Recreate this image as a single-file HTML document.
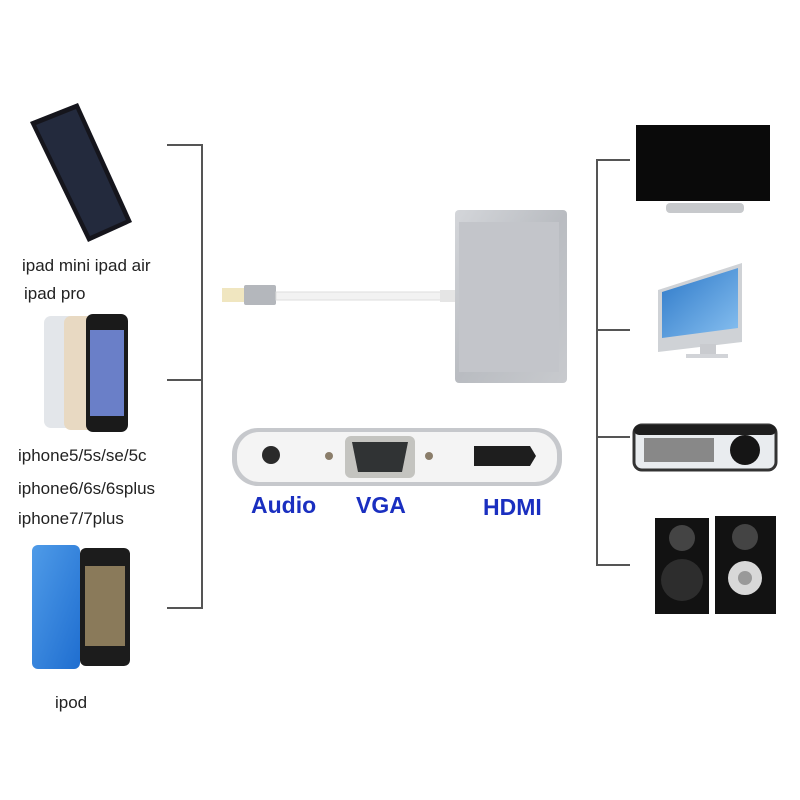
<!DOCTYPE html>
<html><head><meta charset="utf-8"><style>
html,body{margin:0;padding:0;background:#fff;}
svg{display:block}
</style></head><body>
<svg width="800" height="800" viewBox="0 0 800 800" xmlns="http://www.w3.org/2000/svg">
<defs>
<linearGradient id="silver" x1="0" y1="0" x2="1" y2="1"><stop offset="0" stop-color="#d4d6da"/><stop offset="0.5" stop-color="#b9bcc1"/><stop offset="1" stop-color="#c8cace"/></linearGradient>
<linearGradient id="blue" x1="0" y1="0" x2="1" y2="1"><stop offset="0" stop-color="#4f9be8"/><stop offset="1" stop-color="#1f6ed0"/></linearGradient>
<linearGradient id="scr" x1="0" y1="0" x2="1" y2="1"><stop offset="0" stop-color="#2c78c8"/><stop offset="1" stop-color="#88c0f0"/></linearGradient>
</defs>
<rect width="800" height="800" fill="#fff"/>
<!-- left bracket -->
<g stroke="#555" stroke-width="2" fill="none">
<path d="M167 145H202V608H167M167 380H202"/>
<path d="M630 160H597V565H630M597 330H630M597 437H630"/>
</g>
<!-- ipad -->
<polygon points="30,122 78,103 132,222 88,242" fill="#15151c"/>
<polygon points="36,125 76,109 126,220 90,236" fill="#232a3d"/>
<text font-family="Liberation Sans, sans-serif" font-size="17" fill="#222">
<tspan x="22" y="271">ipad mini  ipad air</tspan>
<tspan x="24" y="299">ipad pro</tspan>
<tspan x="18" y="461">iphone5/5s/se/5c</tspan>
<tspan x="18" y="494">iphone6/6s/6splus</tspan>
<tspan x="18" y="524">iphone7/7plus</tspan>
<tspan x="55" y="708">ipod</tspan>
</text>
<!-- iphones -->
<rect x="44" y="316" width="32" height="112" rx="7" fill="#e3e6ea"/>
<rect x="64" y="316" width="32" height="114" rx="7" fill="#e8d9c2"/>
<rect x="86" y="314" width="42" height="118" rx="7" fill="#1a1a1a"/>
<rect x="90" y="330" width="34" height="86" fill="#6a7fc8"/>
<!-- ipod -->
<rect x="32" y="545" width="48" height="124" rx="6" fill="url(#blue)"/>
<rect x="80" y="548" width="50" height="118" rx="6" fill="#1c1c1c"/>
<rect x="85" y="566" width="40" height="80" fill="#8a7a5a"/>
<!-- adapter -->
<rect x="222" y="288" width="24" height="14" fill="#f0e6c0"/>
<rect x="244" y="285" width="32" height="20" rx="2" fill="#b4b7bc"/>
<rect x="276" y="292" width="166" height="8" fill="#f2f2f2" stroke="#ddd"/>
<rect x="440" y="290" width="16" height="12" fill="#e5e5e5"/>
<rect x="455" y="210" width="112" height="173" rx="4" fill="url(#silver)"/>
<rect x="459" y="222" width="100" height="150" fill="#c3c5ca"/>
<!-- port bar -->
<rect x="232" y="428" width="330" height="58" rx="26" fill="#c6c8cc"/>
<rect x="237" y="432" width="320" height="50" rx="22" fill="#f4f4f4"/>
<circle cx="271" cy="455" r="9" fill="#2a2a2a"/>
<circle cx="329" cy="456" r="4" fill="#8a7d6a"/>
<circle cx="429" cy="456" r="4" fill="#8a7d6a"/>
<rect x="345" y="436" width="70" height="42" rx="6" fill="#c4c4c0"/>
<path d="M352 442H408L402 472H358Z" fill="#303334"/>
<path d="M474 446H530L536 456L530 466H474Z" fill="#1e1e1e"/>
<g font-family="Liberation Sans, sans-serif" font-weight="bold" font-size="23" fill="#1a2fc0">
<text x="251" y="513">Audio</text>
<text x="356" y="513">VGA</text>
<text x="483" y="515">HDMI</text>
</g>
<!-- tv -->
<rect x="636" y="125" width="134" height="76" fill="#0a0a0a"/>
<rect x="666" y="203" width="78" height="10" rx="4" fill="#c7c9cc"/>
<!-- monitor -->
<polygon points="658,290 742,263 742,342 658,352" fill="#cfd2d6"/>
<polygon points="662,292 738,268 738,328 662,338" fill="url(#scr)"/>
<rect x="700" y="344" width="16" height="10" fill="#c9cbcf"/>
<rect x="686" y="354" width="42" height="4" fill="#d2d4d8"/>
<!-- projector -->
<rect x="634" y="425" width="142" height="45" rx="8" fill="#e9ecef" stroke="#333" stroke-width="3"/>
<rect x="634" y="425" width="142" height="10" rx="5" fill="#1e1e1e"/>
<rect x="644" y="438" width="70" height="24" fill="#888"/>
<circle cx="745" cy="450" r="15" fill="#151515"/>
<!-- speakers -->
<rect x="655" y="518" width="54" height="96" fill="#121212"/>
<circle cx="682" cy="538" r="13" fill="#444"/>
<circle cx="682" cy="580" r="21" fill="#2d2d2d"/>
<rect x="715" y="516" width="61" height="98" fill="#121212"/>
<circle cx="745" cy="537" r="13" fill="#444"/>
<circle cx="745" cy="578" r="17" fill="#d8d8d8"/>
<circle cx="745" cy="578" r="7" fill="#999"/>
</svg>
</body></html>
